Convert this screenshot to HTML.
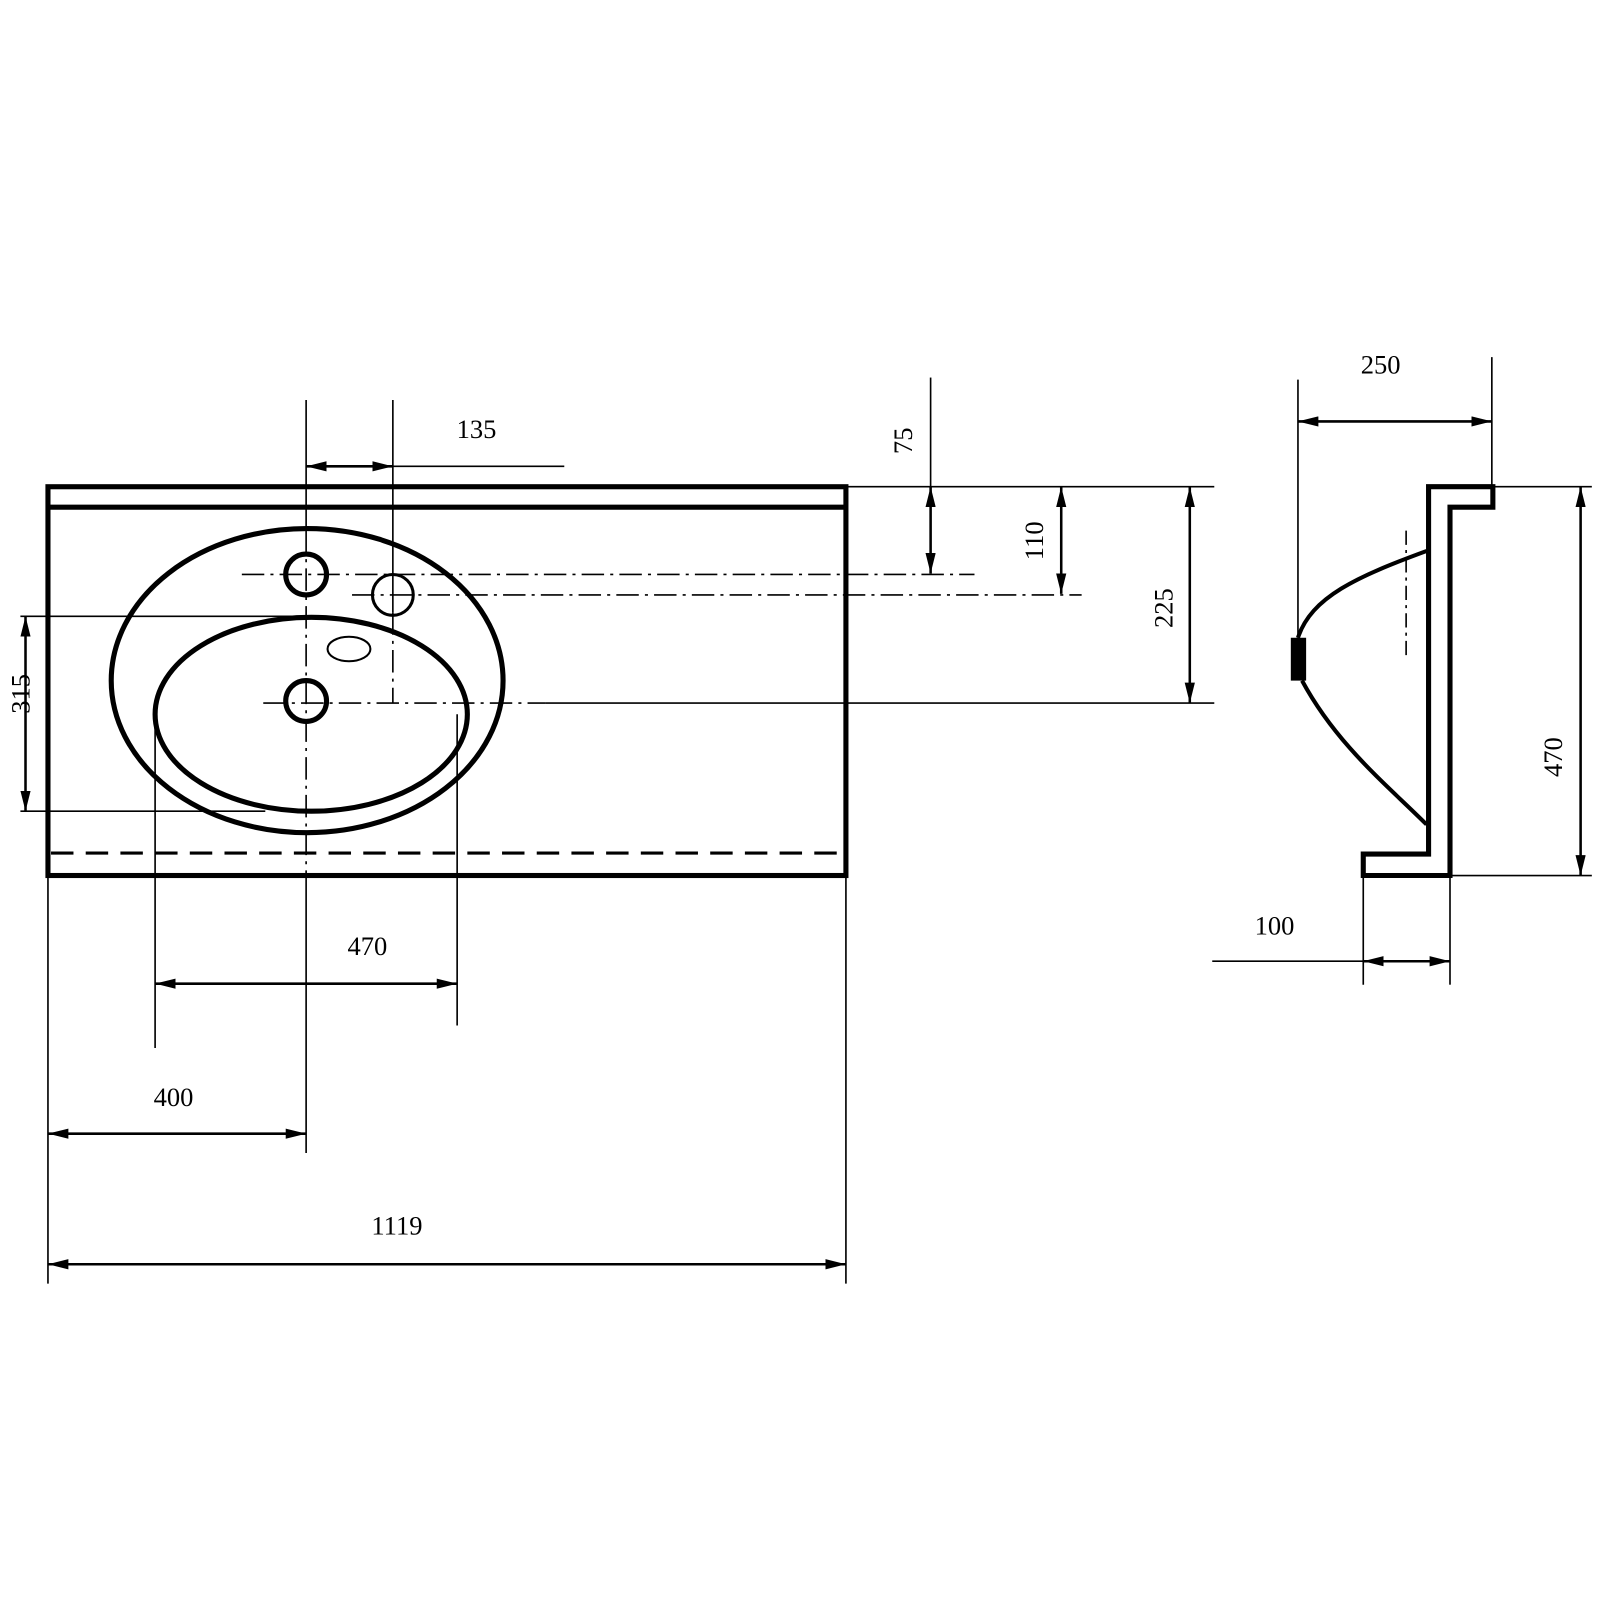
<!DOCTYPE html>
<html><head><style>html,body{margin:0;padding:0;background:#fff}svg{display:block}</style></head>
<body>
<svg width="1600" height="1600" viewBox="0 0 1568 1568" xmlns="http://www.w3.org/2000/svg" font-family="Liberation Serif, serif" font-size="26" fill="none" stroke="#000">
<defs>
<marker id="a" viewBox="0 0 20 10" refX="20" refY="5" markerWidth="20" markerHeight="10" markerUnits="userSpaceOnUse" orient="auto-start-reverse"><path d="M0,0 L20,5 L0,10 Z" fill="#000" stroke="none"/></marker>
</defs>
<!-- main body -->
<g stroke-width="5">
<rect x="47" y="477" width="782" height="381"/>
<line x1="47" y1="497" x2="829" y2="497"/>
<ellipse cx="301" cy="667" rx="192" ry="149"/>
<ellipse cx="305" cy="700" rx="153" ry="95"/>
<circle cx="300" cy="563" r="20"/>
<circle cx="300" cy="687" r="20"/>
</g>
<circle cx="385" cy="583" r="20" stroke-width="3"/>
<ellipse cx="342" cy="636" rx="21" ry="12" stroke-width="2"/>
<line x1="50" y1="836" x2="829" y2="836" stroke-width="3" stroke-dasharray="22,12"/>
<!-- centerlines -->
<g stroke-width="1.6">
<line x1="300" y1="392" x2="300" y2="520"/>
<line x1="300" y1="520" x2="300" y2="858" stroke-dasharray="22,6,3,6"/>
<line x1="300" y1="858" x2="300" y2="1130"/>
<line x1="385" y1="392" x2="385" y2="600"/>
<line x1="385" y1="600" x2="385" y2="689" stroke-dasharray="22,6,3,6"/>
<line x1="237" y1="563" x2="955" y2="563" stroke-dasharray="22,6,3,6"/>
<line x1="345" y1="583" x2="1060" y2="583" stroke-dasharray="22,6,3,6"/>
<line x1="258" y1="689" x2="535" y2="689" stroke-dasharray="22,6,3,6"/>
<line x1="535" y1="689" x2="1190" y2="689"/>
<line x1="385" y1="457" x2="553" y2="457"/>
<line x1="829" y1="477" x2="1190" y2="477"/>
<line x1="912" y1="370" x2="912" y2="477"/>
<line x1="20" y1="604" x2="300" y2="604"/>
<line x1="20" y1="795" x2="260" y2="795"/>
<line x1="152" y1="700" x2="152" y2="1027"/>
<line x1="448" y1="700" x2="448" y2="1005"/>
<line x1="47" y1="858" x2="47" y2="1258"/>
<line x1="829" y1="858" x2="829" y2="1258"/>
</g>
<!-- dimension arrows -->
<g stroke-width="2.5" marker-start="url(#a)" marker-end="url(#a)">
<line x1="300" y1="457" x2="385" y2="457"/>
<line x1="912" y1="477" x2="912" y2="562"/>
<line x1="1040" y1="477" x2="1040" y2="582"/>
<line x1="1166" y1="477" x2="1166" y2="689"/>
<line x1="25" y1="604" x2="25" y2="795"/>
<line x1="152" y1="964" x2="448" y2="964"/>
<line x1="47" y1="1111" x2="300" y2="1111"/>
<line x1="47" y1="1239" x2="829" y2="1239"/>
<line x1="1272" y1="413" x2="1462" y2="413"/>
<line x1="1549" y1="477" x2="1549" y2="858"/>
<line x1="1336" y1="942" x2="1421" y2="942"/>
</g>
<!-- side view -->
<path d="M1400,477 H1463 V497 H1421 V858 H1336 V837 H1400 Z" stroke-width="5"/>
<path d="M1398,540 C1330,565 1285,585 1272,625" stroke-width="4"/>
<path d="M1276,667 C1310,730 1360,770 1398,808" stroke-width="4"/>
<rect x="1265" y="625" width="15" height="42" fill="#000" stroke="none"/>
<line x1="1378" y1="520" x2="1378" y2="645" stroke-width="1.6" stroke-dasharray="14,5,3,5"/>
<g stroke-width="1.6">
<line x1="1272" y1="372" x2="1272" y2="625"/>
<line x1="1462" y1="350" x2="1462" y2="477"/>
<line x1="1463" y1="477" x2="1560" y2="477"/>
<line x1="1421" y1="858" x2="1560" y2="858"/>
<line x1="1336" y1="858" x2="1336" y2="965"/>
<line x1="1421" y1="858" x2="1421" y2="965"/>
<line x1="1188" y1="942" x2="1336" y2="942"/>
</g>
<!-- text -->
<g fill="#000" stroke="none" text-anchor="middle">
<text x="467" y="429">135</text>
<text x="360" y="936">470</text>
<text x="170" y="1084">400</text>
<text x="389" y="1210">1119</text>
<text x="1353" y="366">250</text>
<text x="1249" y="916">100</text>
<text transform="translate(894,432) rotate(-90)">75</text>
<text transform="translate(1022,530) rotate(-90)">110</text>
<text transform="translate(1149,596) rotate(-90)">225</text>
<text transform="translate(29,680) rotate(-90)">315</text>
<text transform="translate(1531,742) rotate(-90)">470</text>
</g>
</svg>
</body></html>
